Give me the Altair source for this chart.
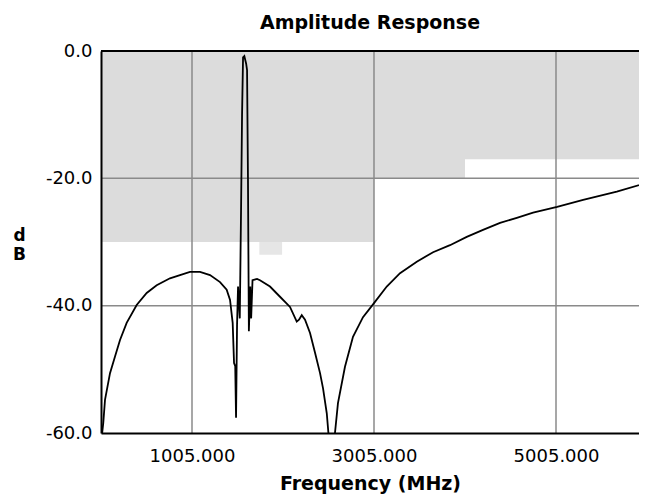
import altair as alt
import pandas as pd

# Amplitude response curve (MHz, dB)
freq = [10, 30, 49, 104, 159, 214, 287, 397, 507, 617,
        763, 873, 983, 1093, 1203, 1313, 1386, 1423, 1452, 1467,
        1480, 1489, 1500, 1511, 1530, 1544, 1555, 1566, 1580, 1600,
        1610, 1620, 1630, 1645, 1655, 1670, 1720, 1752, 1862, 1972,
        2082, 2156, 2181, 2211, 2247, 2302, 2357, 2412, 2445, 2486,
        2504, 2540, 2576, 2609, 2686, 2774, 2884, 3005, 3145, 3291,
        3475, 3654, 3840, 4024, 4203, 4390, 4574, 4753, 5017, 5303,
        5673, 6002]
db = [-61, -58.4, -54.8, -50.6, -48, -45.4, -42.7, -39.9, -38, -36.8,
      -35.7, -35.2, -34.7, -34.7, -35.2, -36.3, -37.5, -39.1, -42.7, -49,
      -49.5, -57.6, -43, -37, -42, -25, -10, -1, -0.8, -2,
      -3, -20, -44, -37, -42, -36, -35.8, -36, -37, -38.6,
      -40.2, -42.5, -42.2, -41.5, -42.2, -44.3, -47.4, -50.6, -53, -56.9,
      -60, -66, -60, -55.3, -49.6, -44.9, -41.8, -39.6, -37, -34.9,
      -33.1, -31.6, -30.5, -29.2, -28.1, -27, -26.2, -25.4, -24.5, -23.4,
      -22.1, -20.7]

# Spec mask (shaded regions)
mask_f1 = [5, 3005, 4005]
mask_f2 = [3005, 4005, 6005]
mask_top = [0, 0, 0]
mask_bot = [-30, -20, -17]
notch_f1 = [1745]
notch_f2 = [1995]
notch_top = [-30]
notch_bot = [-32]

x_ticks = [1005, 3005, 5005]
y_ticks = [0, -20, -40, -60]
y_grid = [-20, -40]

curve = pd.DataFrame({"f": freq, "db": db})
mask = pd.DataFrame({"f1": mask_f1, "f2": mask_f2, "t": mask_top, "b": mask_bot})
notch = pd.DataFrame({"f1": notch_f1, "f2": notch_f2, "t": notch_top, "b": notch_bot})
vgrid = pd.DataFrame({"f": x_ticks})
hgrid = pd.DataFrame({"v": y_grid})

FONT = "DejaVu Sans"
xscale = alt.Scale(domain=[5, 5917], nice=False, zero=False)
yscale = alt.Scale(domain=[-60, 0], nice=False, zero=False)

xaxis = alt.Axis(values=x_ticks, format=".3f", grid=False, ticks=False,
                 domainColor="black", domainWidth=2, labelFont=FONT,
                 labelFontSize=18, labelColor="black", labelPadding=14,
                 title="Frequency (MHz)", titleFont=FONT, titleFontSize=19,
                 titleFontWeight="bold", titleColor="black",
                 titleBaseline="middle", titleY=50, zindex=1, labelFlush=False)
yaxis = alt.Axis(values=y_ticks, grid=False, ticks=False,
                 labelExpr="datum.value == 0 ? '0.0' : '-' + format(abs(datum.value), '.1f')",
                 domainColor="black", domainWidth=2, labelFont=FONT,
                 labelFontSize=18, labelColor="black", labelPadding=9,
                 labelBaseline="middle",
                 title=["d", "B"], titleFont=FONT, titleFontSize=17,
                 titleFontWeight="bold", titleColor="black", titleAngle=0,
                 titleAlign="center", titleBaseline="middle",
                 titleX=-82, titleY=184, titleLineHeight=19, zindex=1,
                 labelFlush=False)

shade = alt.Chart(mask).mark_rect(color="#dcdcdc", clip=True).encode(
    x=alt.X("f1:Q", scale=xscale, axis=xaxis),
    x2="f2:Q",
    y=alt.Y("t:Q", scale=yscale, axis=yaxis),
    y2="b:Q",
)
notch_l = alt.Chart(notch).mark_rect(color="#e6e6e6", clip=True).encode(
    x=alt.X("f1:Q", scale=xscale), x2="f2:Q",
    y=alt.Y("t:Q", scale=yscale), y2="b:Q",
)
vg = alt.Chart(vgrid).mark_rule(color="#8a8a8a", strokeWidth=1.5).encode(
    x=alt.X("f:Q", scale=xscale)
)
hg = alt.Chart(hgrid).mark_rule(color="#8a8a8a", strokeWidth=1.5).encode(
    y=alt.Y("v:Q", scale=yscale)
)
top = alt.Chart(pd.DataFrame({"v": [0]})).mark_rule(color="black", strokeWidth=2).encode(
    y=alt.Y("v:Q", scale=yscale)
)
line = alt.Chart(curve).mark_line(color="black", strokeWidth=1.8, clip=True).encode(
    x=alt.X("f:Q", scale=xscale),
    y=alt.Y("db:Q", scale=yscale),
)

chart = alt.layer(shade, notch_l, vg, hg, line, top).properties(
    width=538, height=382,
    title=alt.TitleParams("Amplitude Response", font=FONT, fontSize=19,
                          fontWeight="bold", color="black", anchor="middle",
                          offset=9),
    autosize=alt.AutoSizeParams(type="none"),
    padding={"left": 93, "top": 43, "right": 0, "bottom": 61},
).configure_view(stroke=None).configure(background="white")

chart.save("out.html", embed_options={"renderer": "svg", "actions": False})
